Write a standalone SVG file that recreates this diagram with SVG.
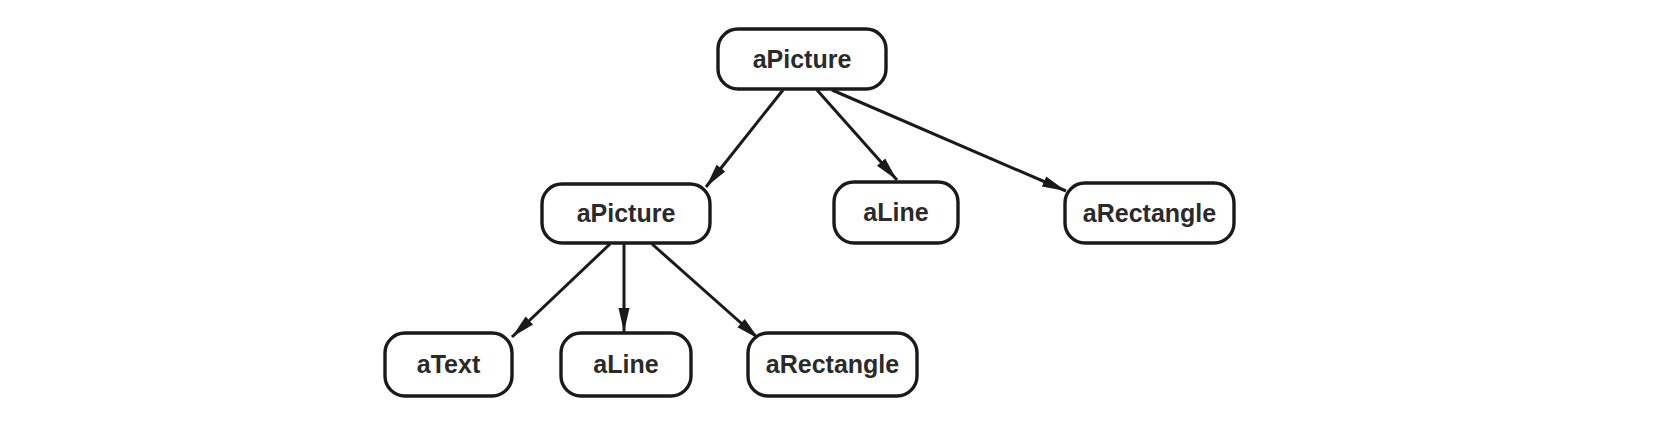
<svg xmlns="http://www.w3.org/2000/svg" width="1670" height="432" viewBox="0 0 1670 432">
<style>
.box{fill:#fff;stroke:#1a1a1a;stroke-width:3.4}
.lbl{font-family:"Liberation Sans",Arial,sans-serif;font-weight:bold;font-size:25px;fill:#2a2a2a;text-anchor:middle}
.edge{stroke:#1a1a1a;stroke-width:3;fill:none;marker-end:url(#ah)}
</style>
<defs>
<marker id="ah" markerUnits="userSpaceOnUse" markerWidth="26" markerHeight="14" refX="24" refY="7" orient="auto">
<path d="M0,1.5 L24,7 L0,12.5 Z" fill="#1a1a1a"/>
</marker>
</defs>
<rect width="1670" height="432" fill="#fff"/>
<g id="connectors">
<line class="edge" x1="783" y1="90" x2="706" y2="187"/>
<line class="edge" x1="817" y1="90" x2="897" y2="180"/>
<line class="edge" x1="832" y1="90" x2="1066" y2="191"/>
<line class="edge" x1="610" y1="244" x2="512" y2="337"/>
<line class="edge" x1="624" y1="244" x2="624" y2="332"/>
<line class="edge" x1="652" y1="244" x2="759" y2="339"/>
</g>
<g id="n_top">
<rect class="box" x="718" y="29" width="168" height="60" rx="20"/>
<text class="lbl" x="802" y="68">aPicture</text>
</g>
<g id="n_pic">
<rect class="box" x="542" y="184" width="168" height="59" rx="20"/>
<text class="lbl" x="626" y="222">aPicture</text>
</g>
<g id="n_line1">
<rect class="box" x="834" y="182" width="124" height="61" rx="20"/>
<text class="lbl" x="896" y="221">aLine</text>
</g>
<g id="n_rect1">
<rect class="box" x="1065" y="183" width="169" height="60" rx="20"/>
<text class="lbl" x="1149.5" y="222">aRectangle</text>
</g>
<g id="n_text">
<rect class="box" x="385" y="333" width="127" height="63" rx="20"/>
<text class="lbl" x="448.5" y="373">aText</text>
</g>
<g id="n_line2">
<rect class="box" x="561" y="333" width="130" height="63" rx="20"/>
<text class="lbl" x="626" y="373">aLine</text>
</g>
<g id="n_rect2">
<rect class="box" x="748" y="333" width="169" height="63" rx="20"/>
<text class="lbl" x="832.5" y="373">aRectangle</text>
</g>
</svg>
